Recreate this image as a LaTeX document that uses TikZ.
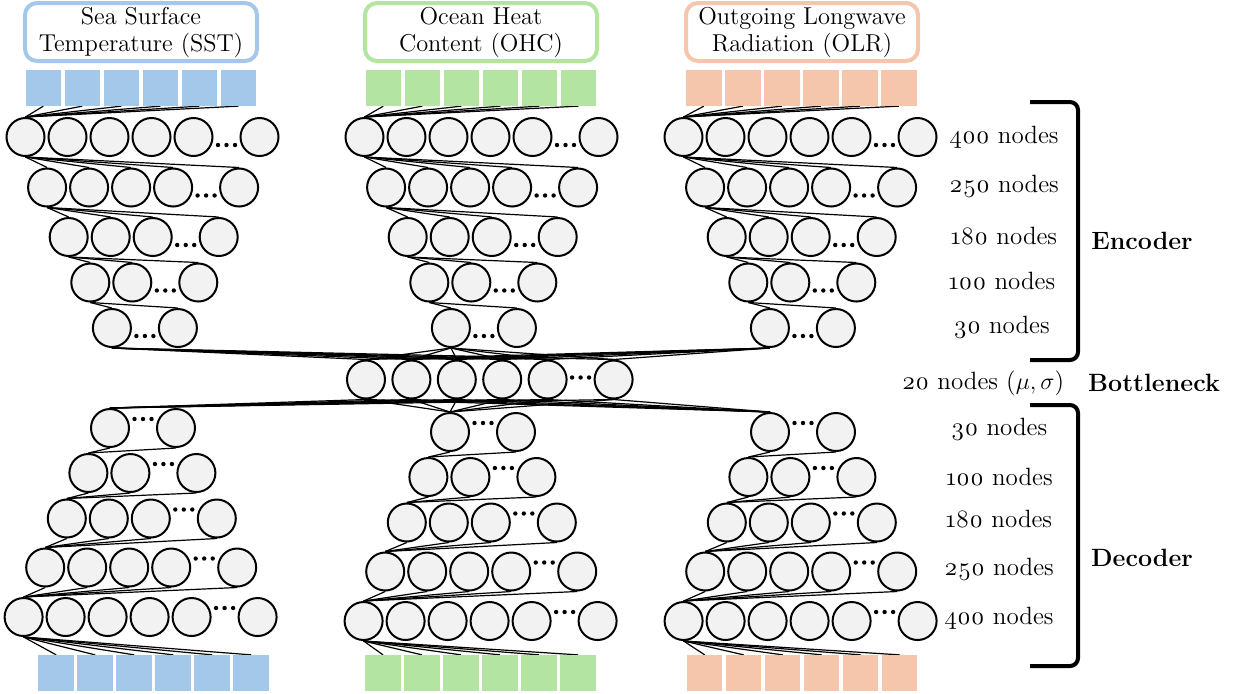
\documentclass[tikz,border=0pt]{standalone}
\usepackage{fontspec}
\setmainfont{Latin Modern Roman}[Numbers=OldStyle]
\usetikzlibrary{backgrounds}

\definecolor{sstblue}{RGB}{164,200,234}
\definecolor{ohcgreen}{RGB}{180,228,162}
\definecolor{olrpeach}{RGB}{246,198,172}
\definecolor{cellgray}{RGB}{242,242,242}

\tikzset{
  neuron/.style={draw, circle, fill=cellgray, line width=1pt, minimum size=19pt, inner sep=0pt},
  cell/.style={rectangle, minimum size=17.75pt, inner sep=0pt},
  link/.style={line width=0.6pt},
  titlebox/.style={draw, rounded corners=6pt, line width=2pt, fill=white, minimum width=116pt,
    minimum height=29pt, align=center, inner sep=0pt, font=\fontsize{12.2}{13.5}\selectfont},
  lbl/.style={font=\fontsize{12.5}{14}\selectfont},
  bracket/.style={line width=2pt, rounded corners=4pt},
}

% one layer: name, first x, y, regular count, pitch, dots offset
\newcommand{\nnlayer}[6]{%
  \foreach \i in {1,...,#4}
    \node[neuron] (#1-\i) at ({#2+(\i-1)*#5}, #3) {};
  \node[neuron] (#1-last) at ({#2+(#4-1)*#5+66}, #3) {};
  \foreach \d in {-8.5,0,8.5}
    \fill ({#2+(#4-1)*#5+33+\d}, {#3+#6}) circle (1.1pt);
}

\begin{document}
\begin{tikzpicture}[x=0.5pt, y=-0.5pt]
\useasboundingbox (0,0) rectangle (1236,693);

% variable titles
\node[titlebox, draw=sstblue] (tsst) at (141,32) {Sea Surface\\Temperature (SST)};
\node[titlebox, draw=ohcgreen] (tohc) at (481,32) {Ocean Heat\\Content (OHC)};
\node[titlebox, draw=olrpeach] (tolr) at (802,32) {Outgoing Longwave\\Radiation (OLR)};

% input and output cells
\foreach \c/\col/\xi/\xo in {s/sstblue/43.3/56.2, h/ohcgreen/383.3/383, r/olrpeach/703.8/704.7}
  \foreach \j in {1,...,6} {
    \node[cell, fill=\col] (in\c-\j) at ({\xi+(\j-1)*39}, 88) {};
    \node[cell, fill=\col] (out\c-\j) at ({\xo+(\j-1)*39}, 673) {};
  }

% encoder
\foreach \c/\dx in {s/0, h/339, r/658}
  \foreach \k in {1,...,5} {
    \pgfmathsetmacro\lx{25.5+21.6*(\k-1)+\dx}
    \pgfmathsetmacro\ly{{137,187.5,237,282.5,328}[\k-1]}
    \pgfmathtruncatemacro\nr{6-\k}
    \nnlayer{e\c\k}{\lx}{\ly}{\nr}{42}{8}
  }

% bottleneck
\nnlayer{b}{366}{379.5}{5}{45.4}{-2}

% decoder
\foreach \c/\dx/\dy in {s/0/0, h/340/4, r/660/4}
  \foreach \k in {1,...,5} {
    \pgfmathsetmacro\lx{110-21.6*(\k-1)+\dx}
    \pgfmathsetmacro\ly{{428,473,518.5,567.5,617}[\k-1]+\dy}
    \nnlayer{d\c\k}{\lx}{\ly}{\k}{42}{-9}
  }

% connections
\begin{pgfonlayer}{background}
\foreach \c in {s,h,r} {
  \foreach \j in {1,...,6} {
    \draw[link] (e\c1-1.north) -- (in\c-\j.south);
    \draw[link] (d\c5-1.south) -- (out\c-\j.north);
  }
  \foreach \k in {1,...,4} {
    \pgfmathtruncatemacro\kn{\k+1}
    \pgfmathtruncatemacro\nr{5-\k}
    \draw[link] (e\c\k-1.south) -- (e\c\kn-last.north);
    \foreach \j in {1,...,\nr}
      \draw[link] (e\c\k-1.south) -- (e\c\kn-\j.north);
    \draw[link] (d\c\kn-1.north) -- (d\c\k-last.south);
    \foreach \j in {1,...,\k}
      \draw[link] (d\c\kn-1.north) -- (d\c\k-\j.south);
  }
  \draw[link] (e\c5-1.south) -- (b-last.north);
  \draw[link] (b-last.south) -- (d\c1-1.north);
  \foreach \j in {1,...,5} {
    \draw[link] (e\c5-1.south) -- (b-\j.north);
    \draw[link] (b-\j.south) -- (d\c1-1.north);
  }
}
\end{pgfonlayer}

% layer sizes
\node[lbl] (e400) at (1004,137) {400 nodes};
\node[lbl] (e250) at (1004,187) {250 nodes};
\node[lbl] (e180) at (1004,236) {180 nodes};
\node[lbl] (e100) at (1002,281) {100 nodes};
\node[lbl] (e30) at (1001.5,327) {30 nodes};
\node[lbl] (b20) at (983,383) {20 nodes ($\mu,\sigma$)};
\node[lbl] (d30) at (999,429) {30 nodes};
\node[lbl] (d100) at (999.5,477) {100 nodes};
\node[lbl] (d180) at (999,519) {180 nodes};
\node[lbl] (d250) at (999,569) {250 nodes};
\node[lbl] (d400) at (999,618) {400 nodes};

% parts
\draw[bracket] (1030,102) -- (1078,102) -- (1078,360) -- (1030,360);
\draw[bracket] (1030,405) -- (1078,405) -- (1078,666) -- (1030,666);
\node[lbl] (enc) at (1142,241) {\textbf{Encoder}};
\node[lbl] (bott) at (1154,383) {\textbf{Bottleneck}};
\node[lbl] (dec) at (1142,558) {\textbf{Decoder}};
\end{tikzpicture}
\end{document}
